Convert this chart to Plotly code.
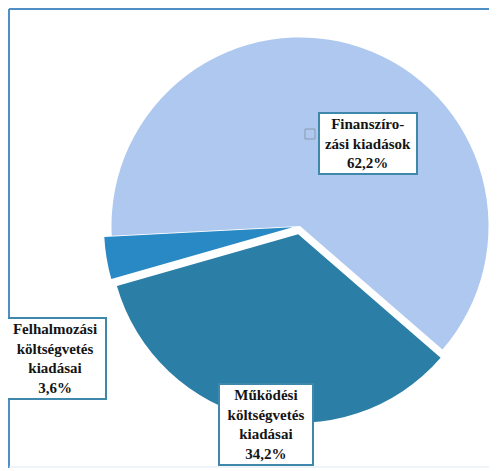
import plotly.graph_objects as go

# ---- data ----
labels = ["Finanszírozási kiadások", "Működési költségvetés kiadásai", "Felhalmozási költségvetés kiadásai"]
label_lines = ["Finanszíro-<br>zási kiadások", "Működési<br>költségvetés<br>kiadásai", "Felhalmozási<br>költségvetés<br>kiadásai"]
values = [62.2, 34.2, 3.6]

# ---- styles ----
colors = ["#aec8ef", "#2b7ea6", "#2889c4"]
pulls = [0, 0.045, 0.04]
W, H = 489, 463          # page body has an 8px margin
OFF = 8
SERIF = "Liberation Serif"

def px(x):
    return (x - OFF) / W

def py(y):
    return 1 - (y - OFF) / H

fig = go.Figure()
fig.add_trace(go.Pie(
    labels=labels, values=values, sort=False, direction="clockwise", rotation=-93,
    pull=pulls, textinfo="none", hoverinfo="label+percent",
    marker=dict(colors=colors, line=dict(width=0)),
    showlegend=False,
    domain=dict(x=[0.1943, 1.0], y=[0.0972, 0.9611]),
))

def pct(v):
    return f"{v:.1f}".replace(".", ",") + "%"

# label box positions (absolute pixel centers) and widths
box_pos = [(368, 144, 92), (266, 424, 88), (55, 358, 96)]
for i, (cx, cy, bw) in enumerate(box_pos):
    fig.add_annotation(
        xref="paper", yref="paper", x=px(cx), y=py(cy),
        xanchor="center", yanchor="middle", showarrow=False,
        text="<b>" + label_lines[i] + "<br>" + pct(values[i]) + "</b>",
        font=dict(family=SERIF, size=15, color="#141414"),
        align="center", bgcolor="white", bordercolor="#3f87ab", borderwidth=2,
        borderpad=2, width=bw,
    )

# legend key square next to first label
fig.add_shape(type="rect", xref="paper", yref="paper",
              x0=px(305), x1=px(315), y0=py(139), y1=py(129),
              line=dict(color="#8a9bb0", width=1), fillcolor="rgba(0,0,0,0)")

# outer frame
fig.add_shape(type="line", xref="paper", yref="paper", x0=px(9), x1=px(9), y0=py(9), y1=py(468),
              line=dict(color="#4f8fc6", width=2))
fig.add_shape(type="line", xref="paper", yref="paper", x0=px(9), x1=px(494), y0=py(9), y1=py(9),
              line=dict(color="#4f8fc6", width=2))
fig.add_shape(type="line", xref="paper", yref="paper", x0=px(492), x1=px(492), y0=py(9), y1=py(467),
              line=dict(color="#dfe9f3", width=1))
fig.add_shape(type="line", xref="paper", yref="paper", x0=px(9), x1=px(492), y0=py(467), y1=py(467),
              line=dict(color="#dfe9f3", width=1))

fig.update_layout(
    width=W, height=H, margin=dict(l=0, r=0, t=0, b=0),
    paper_bgcolor="white", plot_bgcolor="white",
)
fig.write_html("out.html")
